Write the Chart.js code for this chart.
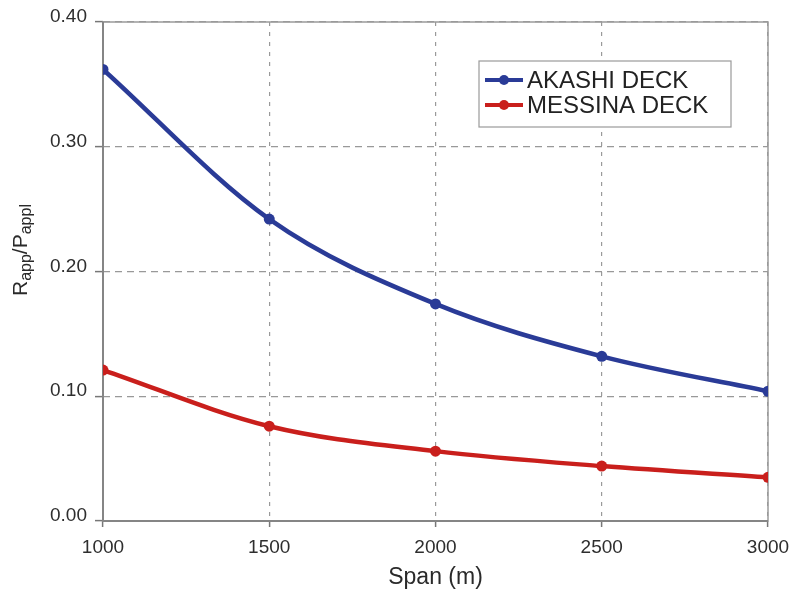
<!DOCTYPE html>
<html>
<head>
<meta charset="utf-8">
<script src="https://cdn.jsdelivr.net/npm/chart.js@4.4.1/dist/chart.umd.min.js"></script>
<style>
  body { margin: 0; background: #fff; }
  canvas { display: block; }
</style>
</head>
<body>
<canvas id="span_chart" width="791" height="599"></canvas>
<script>
// values
const spans = [1000, 1500, 2000, 2500, 3000]
const akashi_deck = [0.362, 0.242, 0.174, 0.132, 0.104]
const messina_deck = [0.121, 0.076, 0.056, 0.044, 0.035]
const series_names = ['AKASHI DECK', 'MESSINA DECK']
const series_colors = ['#2a3b97', '#c91f1c']
const x_title = 'Span (m)'
const y_title = [['R', false], ['app', true], ['/', false], ['P', false], ['appl', true]]

const font_family = '"Liberation Sans", Arial, sans-serif'

function points(xs, ys) {
    return xs.map((x, i) => ({x: x, y: ys[i]}))
}

// box round the plot + axis titles + legend drawn by hand
const decorations = {
    id: 'decorations',
    beforeDatasetsDraw(chart) {
        const ctx = chart.ctx
        const a = chart.chartArea
        ctx.save()
        ctx.strokeStyle = '#9a9a9a'
        ctx.lineWidth = 1.5
        ctx.strokeRect(a.left, a.top, a.right - a.left, a.bottom - a.top)
        ctx.strokeStyle = '#858585'
        ctx.lineWidth = 2
        ctx.beginPath()
        ctx.moveTo(a.left, a.top)
        ctx.lineTo(a.left, a.bottom)
        ctx.lineTo(a.right, a.bottom)
        ctx.stroke()
        ctx.restore()
    },
    afterDraw(chart) {
        const ctx = chart.ctx
        const a = chart.chartArea
        ctx.save()
        ctx.fillStyle = '#2a2a2a'

        // x title
        ctx.font = '23px ' + font_family
        ctx.textAlign = 'center'
        ctx.textBaseline = 'middle'
        ctx.fillText(x_title, (a.left + a.right) / 2, 578)

        // y title with subscripts, rotated
        ctx.translate(27, 296)
        ctx.rotate(-Math.PI / 2)
        ctx.textAlign = 'left'
        ctx.textBaseline = 'alphabetic'
        let pos = 0
        y_title.forEach(part => {
            ctx.font = (part[1] ? '16px ' : '21px ') + font_family
            ctx.fillText(part[0], pos, part[1] ? 4 : 0)
            pos += ctx.measureText(part[0]).width
        })
        ctx.restore()

        // legend
        ctx.save()
        const bx = 479, by = 61, bw = 252, bh = 66
        ctx.fillStyle = '#fff'
        ctx.fillRect(bx, by, bw, bh)
        ctx.strokeStyle = '#9a9a9a'
        ctx.lineWidth = 1.2
        ctx.strokeRect(bx, by, bw, bh)
        ctx.font = '24px ' + font_family
        ctx.textBaseline = 'middle'
        ctx.textAlign = 'left'
        chart.data.datasets.forEach((ds, i) => {
            const ry = 80 + i * 25
            ctx.strokeStyle = ds.borderColor
            ctx.lineWidth = 4
            ctx.beginPath()
            ctx.moveTo(485, ry)
            ctx.lineTo(523, ry)
            ctx.stroke()
            ctx.fillStyle = ds.borderColor
            ctx.beginPath()
            ctx.arc(504, ry, 5, 0, Math.PI * 2)
            ctx.fill()
            ctx.fillStyle = '#222'
            ctx.fillText(ds.label, 527, ry + 1)
        })
        ctx.restore()
    }
}

const datasets = [akashi_deck, messina_deck].map((vals, i) => ({
    label: series_names[i],
    data: points(spans, vals),
    borderColor: series_colors[i],
    backgroundColor: series_colors[i],
    borderWidth: 4.5,
    pointRadius: 5.5,
    pointBorderWidth: 0,
    cubicInterpolationMode: 'monotone',
    fill: false,
}))

const tick_font = {family: font_family, size: 19}

new Chart(document.getElementById('span_chart').getContext('2d'), {
    type: 'line',
    data: {datasets: datasets},
    plugins: [decorations],
    options: {
        responsive: false,
        animation: false,
        layout: {padding: {top: 22, right: 23, left: 0, bottom: 0}},
        plugins: {
            legend: {display: false},
            tooltip: {enabled: false},
        },
        scales: {
            x: {
                type: 'linear',
                min: 1000,
                max: 3000,
                afterFit: s => { s.height = 78; s.paddingLeft = 0; s.paddingRight = 0 },
                ticks: {stepSize: 500, color: '#2e2e2e', font: tick_font, padding: 9, maxRotation: 0,
                        callback: v => String(v)},
                grid: {color: '#999', lineWidth: 1.2, tickLength: 6, tickColor: '#777', tickWidth: 1.5},
                border: {display: false, dash: [4, 6]},
            },
            y: {
                type: 'linear',
                min: 0,
                max: 0.4,
                afterFit: s => { s.width = 103 },
                ticks: {stepSize: 0.1, color: '#2e2e2e', font: tick_font, padding: 8, labelOffset: -5,
                        callback: v => v.toFixed(2)},
                grid: {color: '#999', lineWidth: 1.2, tickLength: 8, tickColor: '#777', tickWidth: 1.5},
                border: {display: false, dash: [7, 5]},
            }
        }
    }
})
</script>
</body>
</html>
